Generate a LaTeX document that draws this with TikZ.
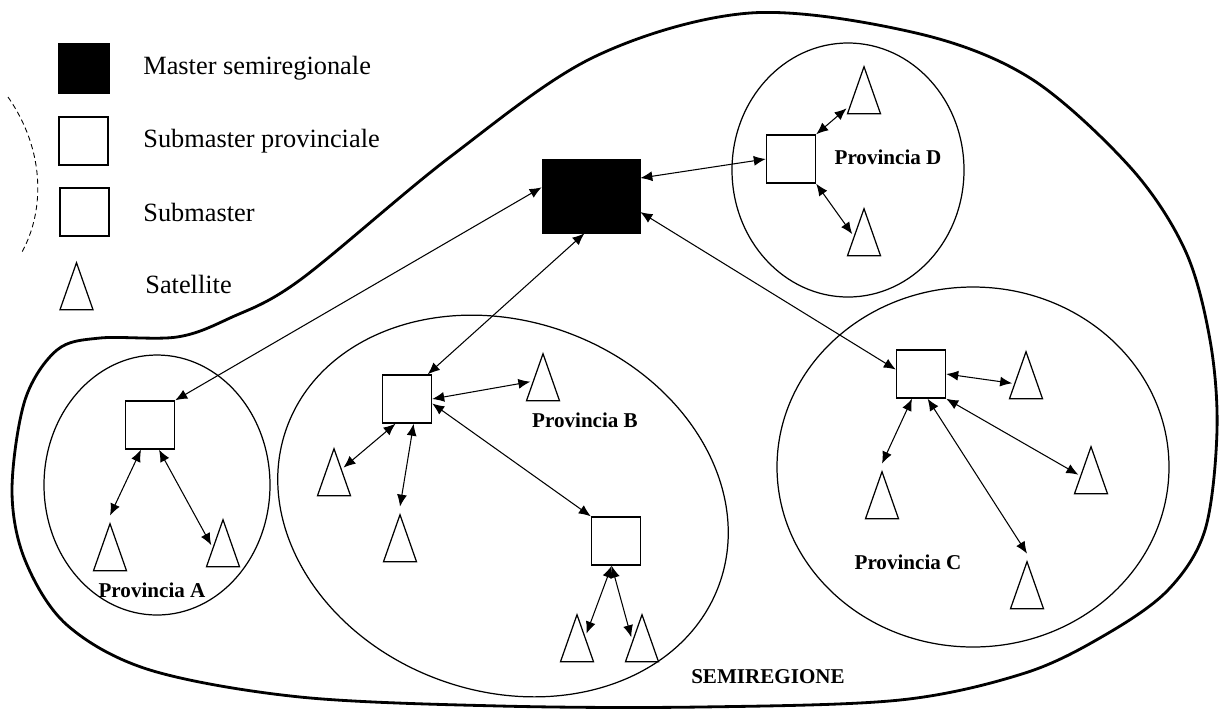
\documentclass[tikz,border=0pt]{standalone}
\usepackage{fontspec}
\setmainfont{Liberation Serif}
\usetikzlibrary{arrows.meta, positioning, shapes.geometric}

\begin{document}
\begin{tikzpicture}[x=0.02cm, y=-0.02cm,
    master/.style={rectangle, draw, fill=black, minimum width=1.96cm,
                   minimum height=1.48cm, inner sep=0pt},
    submaster/.style={rectangle, draw, line width=0.8pt, fill=white,
                      minimum width=0.98cm, minimum height=0.96cm, inner sep=0pt},
    satellite/.style={isosceles triangle, isosceles triangle apex angle=38,
                      isosceles triangle stretches, shape border rotate=90,
                      draw, line width=0.7pt, minimum width=0.66cm,
                      minimum height=0.94cm, inner sep=0pt, outer sep=1.5pt},
    link/.style={{Latex[length=2.4mm,width=2mm]}-{Latex[length=2.4mm,width=2mm]},
                 line width=0.6pt},
    region/.style={draw, line width=0.7pt},
    provlabel/.style={font=\fontsize{12}{14}\selectfont\bfseries, inner sep=0pt},
    legtext/.style={font=\fontsize{15}{18}\selectfont, anchor=west, inner sep=0pt},
  ]
    \useasboundingbox (0,0) rectangle (1220,708);

    % semiregione and provinces
    \draw[line width=1.6pt] plot[smooth cycle, tension=0.55] coordinates {
      (750,13) (916,33) (1030,78) (1130,167) (1185,250) (1210,340)
      (1217,430) (1205,530) (1168,590) (1105,635) (1025,673) (900,700)
      (700,707) (500,706) (300,697) (150,670) (67,625) (25,560) (12,490)
      (25,400) (57,350) (100,338) (177,337) (230,318) (300,280) (450,157)
      (594,57)};
    \draw[region] (157,485) ellipse [x radius=113, y radius=130];
    \draw[region, rotate around={-20:(503,506)}] (503,506)
      ellipse [x radius=230, y radius=185];
    \draw[region] (973,467) ellipse [x radius=196, y radius=180];
    \draw[region] (848,170) ellipse [x radius=116, y radius=127];
    \draw[line width=0.5pt, densely dashed] (8,97) .. controls (45,150)
      and (45,210) .. (22,252);

    % legend
    \node[master, minimum width=1.02cm, minimum height=1cm] (lgmaster) at (83.5,68) {};
    \node[submaster] (lgprov) at (83.5,141) {};
    \node[submaster] (lgsub) at (84.5,212) {};
    \node[satellite] (lgsat) at (76.5,298) {};
    \node[legtext] (txmaster) at (143,68) {Master semiregionale};
    \node[legtext] (txprov) at (143,141) {Submaster provinciale};
    \node[legtext] (txsub) at (143,212) {Submaster};
    \node[legtext] (txsat) at (145,284) {Satellite};

    % nodes
    \node[master] (master) at (591,196) {};
    \node[submaster] (subA) at (150,425) {};
    \node[satellite] (satA1) at (110,559) {};
    \node[satellite] (satA2) at (223,555) {};
    \node[submaster] (subB) at (407,399) {};
    \node[satellite] (satB1) at (543,389) {};
    \node[satellite] (satB2) at (334,484) {};
    \node[satellite] (satB3) at (400,550) {};
    \node[submaster] (subB2) at (616,541) {};
    \node[satellite] (satB4) at (577,650) {};
    \node[satellite] (satB5) at (642,650) {};
    \node[submaster] (subC) at (921,374) {};
    \node[satellite] (satC1) at (1026,387) {};
    \node[satellite] (satC2) at (882,507) {};
    \node[satellite] (satC3) at (1091,482) {};
    \node[satellite] (satC4) at (1027,597) {};
    \node[submaster] (subD) at (791,159) {};
    \node[satellite] (satD1) at (864,102) {};
    \node[satellite] (satD2) at (864,244) {};

    \node[provlabel] (provA) at (152,590) {Provincia A};
    \node[provlabel] (provB) at (585,420) {Provincia B};
    \node[provlabel] (provC) at (908,562) {Provincia C};
    \node[provlabel] (provD) at (888,157) {Provincia D};
    \node[provlabel] (semireg) at (768,677) {SEMIREGIONE};

    % links
    \draw[link] (master.170) -- (subA.north east);
    \draw[link] (master.-100) -- (subB.50);
    \draw[link] (master.-18) -- (subC.170);
    \draw[link] (master.20) -- (subD.west);
    \draw[link] (subA.-110) -- (satA1.apex);
    \draw[link] (subA.-70) -- (satA2.140);
    \draw[link] (subB.east) -- (satB1.150);
    \draw[link] (subB.-115) -- (satB2.60);
    \draw[link] (subB.-75) -- (satB3.apex);
    \draw[link] (subB.-10) -- (subB2.north west);
    \draw[link] (subB2.-100) -- (satB4.60);
    \draw[link] (subB2.-100) -- (satB5.130);
    \draw[link] (subC.east) -- (satC1.165);
    \draw[link] (subC.-110) -- (satC2.apex);
    \draw[link] (subC.south east) -- (satC3.150);
    \draw[link] (subC.-75) -- (satC4.apex);
    \draw[link] (subD.north east) -- (satD1.200);
    \draw[link] (subD.south east) -- (satD2.140);
\end{tikzpicture}
\end{document}
